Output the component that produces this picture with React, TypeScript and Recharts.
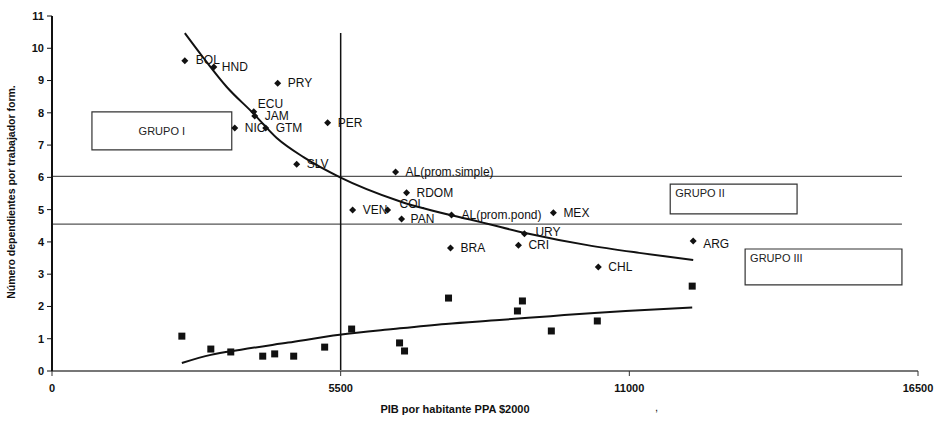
import { ComposedChart, Scatter, Line, XAxis, YAxis, ReferenceLine, ReferenceArea } from "recharts";

// countries (diamonds)
const countryNames = [
  "BOL", "HND", "PRY", "ECU", "JAM", "NIC", "GTM", "PER", "SLV", "AL(prom.simple)",
  "RDOM", "VEN", "COL", "PAN", "AL(prom.pond)", "MEX", "URY", "CRI", "BRA", "CHL", "ARG",
];
const countryGdp = [
  2531, 3083, 4300, 3844, 3863, 3482, 4072, 5252, 4662, 6546,
  6755, 5728, 6394, 6660, 7612, 9553, 9001, 8887, 7593, 10409, 12217,
];
const countryDependents = [
  9.61, 9.42, 8.92, 8.03, 7.9, 7.53, 7.53, 7.69, 6.41, 6.17,
  5.52, 4.99, 4.99, 4.71, 4.83, 4.9, 4.25, 3.9, 3.81, 3.22, 4.03,
];

// second series (squares)
const squareGdp = [2474, 3026, 3406, 4015, 4243, 4605, 5195, 5709, 6622, 6717, 7555, 8868, 8963, 9514, 10390, 12198];
const squareValues = [1.08, 0.68, 0.59, 0.46, 0.53, 0.46, 0.74, 1.3, 0.87, 0.62, 2.26, 1.86, 2.17, 1.24, 1.55, 2.63];

// trend curves
const upperTrendGdp = [2531, 2873, 3330, 3825, 4282, 4800, 5480, 6622, 8145, 9039, 10200, 11189, 12217];
const upperTrendValues = [10.47, 9.73, 8.8, 8.0, 7.22, 6.62, 6.01, 5.26, 4.62, 4.27, 3.9, 3.66, 3.44];
const lowerTrendGdp = [2474, 3026, 3600, 4500, 5480, 6500, 7500, 8525, 9500, 10333, 11200, 12198];
const lowerTrendValues = [0.25, 0.5, 0.66, 0.88, 1.12, 1.3, 1.46, 1.58, 1.7, 1.8, 1.88, 1.97];

const xTicks = [0, 5500, 11000, 16500];
const yTicks = [0, 1, 2, 3, 4, 5, 6, 7, 8, 9, 10, 11];

const countries = countryNames.map((name, i) => ({ name, x: countryGdp[i], y: countryDependents[i] }));
const squares = squareGdp.map((x, i) => ({ x, y: squareValues[i] }));
const upperTrend = upperTrendGdp.map((x, i) => ({ x, y: upperTrendValues[i] }));
const lowerTrend = lowerTrendGdp.map((x, i) => ({ x, y: lowerTrendValues[i] }));

const FONT = "'Liberation Sans', Arial, sans-serif";

// label offsets that differ from the default
const nudge: Record<string, [number, number]> = {
  BOL: [11, 0],
  HND: [8, 1],
  ECU: [4, -7],
  JAM: [10, 1],
  COL: [12, -5],
  PAN: [9, 1],
  URY: [11, -1],
  ARG: [10, 4],
};

const Diamond = (props: any) => {
  const { cx, cy, payload } = props;
  const [dx, dy] = nudge[payload.name] ?? [10, 1];
  return (
    <g>
      <polygon
        points={`${cx},${cy - 3.5} ${cx + 3.5},${cy} ${cx},${cy + 3.5} ${cx - 3.5},${cy}`}
        fill="#111"
      />
      <text x={cx + dx} y={cy + dy} dominantBaseline="middle" fontSize={12} fontFamily={FONT} fill="#111">
        {payload.name}
      </text>
    </g>
  );
};

const Square = (props: any) => {
  const { cx, cy } = props;
  return <rect x={cx - 3.5} y={cy - 3.5} width={7} height={7} fill="#111" />;
};

const boxLabel = { fontSize: 11, fill: "#222", fontFamily: FONT };

export default function App() {
  return (
    <div style={{ position: "absolute", left: 0, top: 0, width: 938, height: 423, background: "#fff" }}>
      <ComposedChart width={938} height={423} margin={{ top: 16, right: 20, bottom: 22, left: 12 }}>
        <XAxis
          type="number"
          dataKey="x"
          domain={[0, 16500]}
          ticks={xTicks}
          height={30}
          axisLine={{ stroke: "#777", strokeWidth: 2 }}
          tickLine={{ stroke: "#333" }}
          tickSize={5}
          tickMargin={8}
          tick={{ fontSize: 11, fontWeight: 700, fill: "#111", fontFamily: FONT }}
        />
        <YAxis
          type="number"
          dataKey="y"
          domain={[0, 11]}
          ticks={yTicks}
          width={40}
          interval={0}
          axisLine={{ stroke: "#111", strokeWidth: 2 }}
          tickLine={{ stroke: "#111" }}
          tickSize={5}
          tickMargin={3}
          tick={{ fontSize: 11, fontWeight: 700, fill: "#111", fontFamily: FONT }}
        />
        <ReferenceLine
          segment={[{ x: 0, y: 6.03 }, { x: 16194, y: 6.03 }]}
          stroke="#555"
          strokeWidth={1.3}
        />
        <ReferenceLine
          segment={[{ x: 0, y: 4.55 }, { x: 16194, y: 4.55 }]}
          stroke="#555"
          strokeWidth={1.3}
        />
        <ReferenceLine
          segment={[{ x: 5500, y: 0 }, { x: 5500, y: 10.47 }]}
          stroke="#111"
          strokeWidth={1.5}
        />
        <ReferenceArea
          x1={761}
          x2={3425}
          y1={6.85}
          y2={8.03}
          fill="#fff"
          fillOpacity={1}
          stroke="#333"
          strokeWidth={1.2}
          label={{ value: "GRUPO I", position: "center", ...boxLabel }}
        />
        <ReferenceArea
          x1={11779}
          x2={14196}
          y1={4.87}
          y2={5.79}
          fill="#fff"
          fillOpacity={1}
          stroke="#333"
          strokeWidth={1.2}
          label={{ value: "GRUPO II", position: "insideTopLeft", offset: 5, ...boxLabel }}
        />
        <ReferenceArea
          x1={13206}
          x2={16194}
          y1={2.67}
          y2={3.78}
          fill="#fff"
          fillOpacity={1}
          stroke="#333"
          strokeWidth={1.2}
          label={{ value: "GRUPO III", position: "insideTopLeft", offset: 5, ...boxLabel }}
        />
        <Line
          data={upperTrend}
          dataKey="y"
          type="monotone"
          dot={false}
          activeDot={false}
          stroke="#111"
          strokeWidth={2}
          isAnimationActive={false}
        />
        <Line
          data={lowerTrend}
          dataKey="y"
          type="monotone"
          dot={false}
          activeDot={false}
          stroke="#111"
          strokeWidth={2}
          isAnimationActive={false}
        />
        <Scatter data={squares} dataKey="y" shape={Square} isAnimationActive={false} />
        <Scatter data={countries} dataKey="y" shape={Diamond} isAnimationActive={false} />
      </ComposedChart>
      <svg width={938} height={423} style={{ position: "absolute", left: 0, top: 0, pointerEvents: "none" }}>
        <text
          transform="translate(15,192) rotate(-90)"
          textAnchor="middle"
          fontSize={10.5}
          fontWeight={700}
          fontFamily={FONT}
          fill="#111"
        >
          Número dependientes por trabajador form.
        </text>
        <text x={455} y={413} textAnchor="middle" fontSize={11} fontWeight={700} fontFamily={FONT} fill="#111">
          PIB por habitante PPA $2000
        </text>
        <text x={655} y={411} fontSize={11} fontFamily={FONT} fill="#111">
          ,
        </text>
      </svg>
    </div>
  );
}
